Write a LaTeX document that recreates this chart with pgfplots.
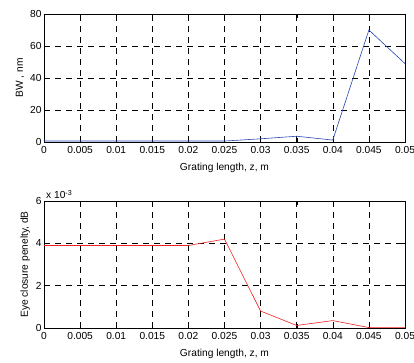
\documentclass[border=0pt]{standalone}
\usepackage{pgfplots}
\pgfplotsset{compat=1.18}
\usepackage{fontspec}
\setmainfont{Liberation Sans}
\definecolor{mblue}{RGB}{40,70,180}
\definecolor{mred}{RGB}{240,30,30}
\pgfplotsset{
  mstyle/.style={
    scale only axis, width=361bp, anchor=south west,
    xmin=0, xmax=0.05,
    xtick={0,0.005,...,0.05},
    xticklabels={0,0.005,0.01,0.015,0.02,0.025,0.03,0.035,0.04,0.045,0.05},
    scaled x ticks=false,
    grid=major,
    major grid style={black, dash pattern=on 6bp off 5bp, line width=0.5bp},
    tick align=inside, major tick length=4bp,
    tick style={black, line width=0.4bp},
    axis line style={black, line width=0.5bp},
    font=\fontsize{10.2bp}{12bp}\selectfont,
    ticklabel style={font=\fontsize{10.2bp}{12bp}\selectfont},
    /pgf/number format/assume math mode=true,
    xlabel={Grating length, z, m},
    xlabel style={yshift=-3bp},
    ylabel style={yshift=-1bp},
    xticklabel style={yshift=-1bp},
    yticklabel style={xshift=1bp},
  }
}
\begin{document}
\begin{tikzpicture}
\useasboundingbox (0,0) rectangle (414bp,363bp);
\begin{axis}[mstyle, at={(44bp,221bp)}, height=128bp,
  ymin=0, ymax=80, ytick={0,20,40,60,80},
  ylabel={BW , nm}]
\addplot[mblue, line width=0.6bp] coordinates {
(0,0.6) (0.005,0.6) (0.01,0.6) (0.015,0.6) (0.02,0.6) (0.025,0.6)
(0.03,2) (0.035,3.6) (0.04,1.2) (0.045,70) (0.05,49)};
\end{axis}
\begin{axis}[mstyle, at={(44bp,35bp)}, height=127bp,
  ymin=0, ymax=0.006, ytick={0,0.002,0.004,0.006},
  scaled y ticks=base 10:3,
  ytick scale label code/.code={x 10\textsuperscript{#1}},
  every y tick scale label/.style={at={(rel axis cs:0,1)}, anchor=south west, inner sep=1bp, yshift=1bp},
  ylabel={Eye closure penelty, dB}]
\addplot[mred, line width=0.6bp] coordinates {
(0,0.0039) (0.005,0.0039) (0.01,0.0039) (0.015,0.0039) (0.02,0.0039)
(0.025,0.0042) (0.03,0.0008) (0.035,0.00012) (0.04,0.00035) (0.045,0.00002) (0.05,0.00002)};
\end{axis}
\end{tikzpicture}
\end{document}
